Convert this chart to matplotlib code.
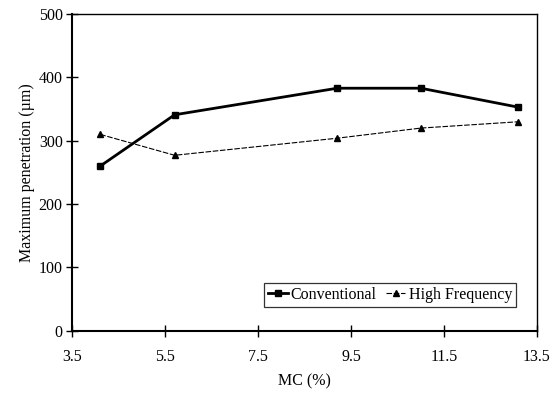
import matplotlib
matplotlib.use("Agg")
import matplotlib.pyplot as plt

plt.rcParams['font.family'] = ['Liberation Serif', 'DejaVu Serif']

mc = [4.1, 5.7, 9.2, 11.0, 13.1]
conventional = [260, 341, 383, 383, 353]
high_freq = [310, 277, 304, 320, 330]
xticks = [3.5, 5.5, 7.5, 9.5, 11.5, 13.5]
yticks = [0, 100, 200, 300, 400, 500]

fig = plt.figure(figsize=(5.57, 3.94), dpi=100)
ax = fig.add_axes([0.130, 0.161, 0.834, 0.803])

ax.plot(mc, conventional, color='black', lw=2.0, marker='s', ms=4.5, label='Conventional')
ax.plot(mc, high_freq, color='black', lw=0.8, ls=(0, (5, 1.5)), marker='^', ms=4, label='High Frequency')

ax.set_xlim(3.5, 13.5)
ax.set_ylim(0, 500)
ax.set_xticks(xticks)
ax.set_xticklabels([f"{t:.1f}" for t in xticks])
ax.set_yticks(yticks)
ax.tick_params(direction='inout', length=8, width=1, labelsize=11.5, colors='black')
ax.tick_params(axis='x', pad=9)
ax.tick_params(axis='y', pad=3)
for s in ax.spines.values():
    s.set_linewidth(1.0)
ax.spines['left'].set_linewidth(1.5)
ax.spines['bottom'].set_linewidth(1.5)

ax.set_xlabel('MC (%)', fontsize=11.5, labelpad=6)
ax.set_ylabel('Maximum penetration (µm)', fontsize=11.5, labelpad=3)

leg = ax.legend(loc='lower right', bbox_to_anchor=(0.955, 0.075), ncol=2, frameon=True,
                fancybox=False, edgecolor='black', fontsize=11.5, handlelength=1.2,
                handletextpad=0.2, columnspacing=0.6, borderpad=0.25, borderaxespad=0)
leg.get_frame().set_linewidth(0.9)

fig.savefig('out.png', dpi=100)
